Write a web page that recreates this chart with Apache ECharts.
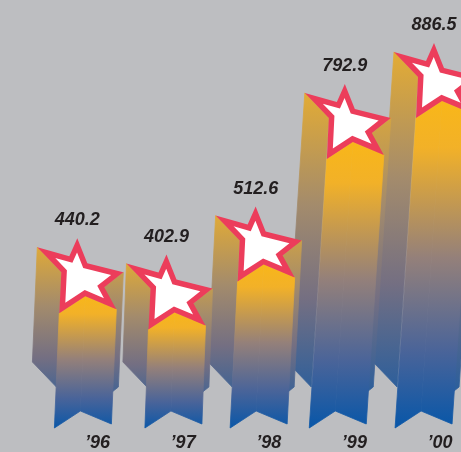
<!DOCTYPE html>
<html>
<head>
<meta charset="utf-8">
<script src="https://cdn.jsdelivr.net/npm/echarts@6/dist/echarts.min.js"></script>
<style>
  html, body { margin: 0; padding: 0; background: #bdbec1; }
  #chart { width: 461px; height: 452px; }
</style>
</head>
<body>
<div id="chart"></div>
<script>
// Yearly figures, one star column per year
const years = ['\u201996', '\u201997', '\u201998', '\u201999', '\u201900'];
const revenue = [440.2, 402.9, 512.6, 792.9, 886.5];

// Star cross-section seen in perspective, in pixels relative to its top tip,
// listed clockwise: tip, inner, tip, inner ...
const STAR_SHAPE = [
  [0, 0], [10, 25], [46, 34], [27, 49], [39, 71],
  [8, 58], [-18, 75], [-16, 34], [-40, 9], [-8, 18]
];
const RIM = 5.5;          // width of the red rim around the white star
const FONT = '"Liberation Sans", Arial, sans-serif';

const chart = echarts.init(document.getElementById('chart'), null, { renderer: 'canvas' });

// Inward offset of a clockwise polygon (screen coordinates, y down)
function insetPolygon(pts, d) {
  const n = pts.length;
  const lines = [];
  for (let k = 0; k < n; k++) {
    const p = pts[k], q = pts[(k + 1) % n];
    const ux = q[0] - p[0], uy = q[1] - p[1];
    const len = Math.hypot(ux, uy);
    // outward normal is (uy, -ux); move inward
    const nx = -uy / len, ny = ux / len;
    lines.push({ a: [p[0] + nx * d, p[1] + ny * d], u: [ux, uy] });
  }
  const out = [];
  for (let k = 0; k < n; k++) {
    const l1 = lines[(k - 1 + n) % n], l2 = lines[k];
    const cr = l1.u[0] * l2.u[1] - l1.u[1] * l2.u[0];
    const bx = l2.a[0] - l1.a[0], by = l2.a[1] - l1.a[1];
    const s = (bx * l2.u[1] - by * l2.u[0]) / cr;
    out.push([l1.a[0] + s * l1.u[0], l1.a[1] + s * l1.u[1]]);
  }
  return out;
}

function frontGradient(y1, y2) {
  return new echarts.graphic.LinearGradient(0, y1, 0, y2, [
    { offset: 0, color: '#f9b718' },
    { offset: 0.15, color: '#f2b128' },
    { offset: 0.48, color: '#94807a' },
    { offset: 0.76, color: '#4a6499' },
    { offset: 1, color: '#0556a9' }
  ], true);
}
function sideGradient(y1, y2) {
  return new echarts.graphic.LinearGradient(0, y1, 0, y2, [
    { offset: 0, color: '#e8ae30' },
    { offset: 0.35, color: '#a38b6c' },
    { offset: 0.62, color: '#746f82' },
    { offset: 1, color: '#0f58a6' }
  ], true);
}

function renderStarColumn(params, api) {
  const idx = api.value(0);
  const val = api.value(1);
  const tip = api.coord([idx, val]);
  const base = api.coord([idx, 0]);
  const tx = tip[0], ty = tip[1];

  const star = STAR_SHAPE.map(p => [tx + p[0], ty + p[1]]);
  const depth = Math.max(0, base[1] - 3 - (ty + 75));
  const lean = -Math.max(0, 0.082 * depth - 4.5);

  const zBase = (revenue.length - idx) * 100;
  const children = [];

  // Side walls of the extruded star that face the viewer
  const faces = [];
  for (let k = 0; k < star.length; k++) {
    const p = star[k], q = star[(k + 1) % star.length];
    const ux = q[0] - p[0], uy = q[1] - p[1];
    if (ux >= 0) continue;
    const len = Math.hypot(ux, uy);
    const nxr = uy / len;
    faces.push({
      pts: [p, q, [q[0] + lean, q[1] + depth], [p[0] + lean, p[1] + depth]],
      key: Math.min(p[1], q[1]),
      side: Math.abs(nxr) > 0.55
    });
  }
  faces.sort((a, b) => a.key - b.key);
  faces.forEach((f, j) => {
    const paint = f.side ? sideGradient(ty, base[1]) : frontGradient(ty + 55, base[1]);
    children.push({
      type: 'polygon',
      z2: zBase + j,
      shape: { points: f.pts },
      style: { fill: paint, stroke: paint, lineWidth: 0.8, lineJoin: 'miter' }
    });
  });

  // Star cap: red rim and white centre
  children.push({
    type: 'polygon',
    z2: zBase + 20,
    shape: { points: star },
    style: { fill: '#ec3d5b', stroke: null }
  });
  children.push({
    type: 'polygon',
    z2: zBase + 21,
    shape: { points: insetPolygon(star, RIM) },
    style: { fill: '#ffffff', stroke: null }
  });

  // Value above the star
  children.push({
    type: 'text',
    z2: zBase + 30,
    x: tx,
    y: ty - 18,
    style: {
      text: val.toFixed(1),
      fill: '#231f20',
      fontSize: 18,
      fontWeight: 'bold',
      fontStyle: 'italic',
      fontFamily: FONT,
      align: 'center',
      verticalAlign: 'middle'
    }
  });

  return { type: 'group', children: children };
}

const option = {
  backgroundColor: '#bdbec1',
  animation: false,
  grid: [
    { left: 77.3, right: 27, top: 37, bottom: 21 },
    { left: 97.5, right: 21, top: 0, bottom: 21 }
  ],
  xAxis: [
    { type: 'category', gridIndex: 0, data: years, boundaryGap: false, show: false },
    {
      type: 'category', gridIndex: 1, data: years, boundaryGap: false,
      axisLine: { show: false }, axisTick: { show: false }, splitLine: { show: false },
      axisLabel: {
        margin: 3,
        color: '#231f20',
        fontSize: 18,
        fontWeight: 'bold',
        fontStyle: 'italic',
        fontFamily: FONT
      }
    }
  ],
  yAxis: [
    { type: 'value', gridIndex: 0, min: 0, max: 900, show: false },
    { type: 'value', gridIndex: 1, min: 0, max: 1, show: false }
  ],
  series: [{
    type: 'custom',
    xAxisIndex: 0,
    yAxisIndex: 0,
    clip: false,
    renderItem: renderStarColumn,
    data: revenue.map((v, i) => [i, v])
  }]
};

chart.setOption(option);
</script>
</body>
</html>
